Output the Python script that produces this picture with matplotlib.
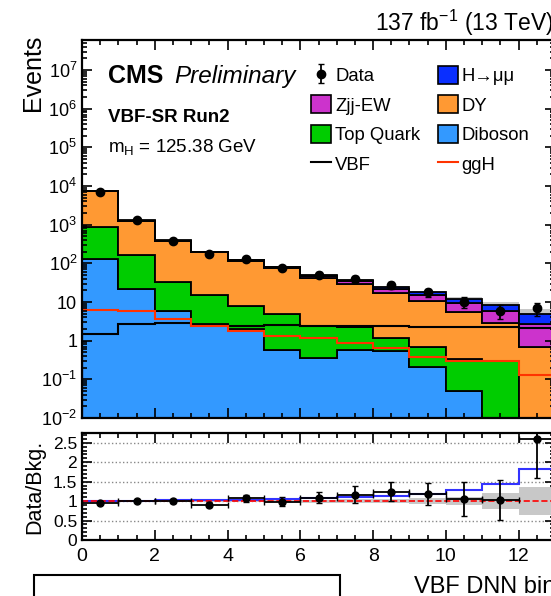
import numpy as np
import matplotlib.pyplot as plt
from matplotlib.patches import Patch, Rectangle
from matplotlib.lines import Line2D
from matplotlib.ticker import MultipleLocator, FixedLocator, LogLocator, NullFormatter, FuncFormatter

plt.rcParams['font.family'] = ['Liberation Sans', 'DejaVu Sans']
plt.rcParams['mathtext.fontset'] = 'custom'
plt.rcParams['mathtext.rm'] = 'Liberation Sans'
plt.rcParams['mathtext.it'] = 'Liberation Sans:italic'
plt.rcParams['mathtext.bf'] = 'Liberation Sans:bold'

# VBF DNN bins 0..13
bin_edges = np.arange(0, 14)

data = [7000, 1290, 390, 178, 128, 78, 51, 40, 27, 18, 10, 6, 7]
# error on data/bkg
ratio_err = [0.01, 0.03, 0.05, 0.07, 0.09, 0.11, 0.14, 0.22, 0.25, 0.28, 0.43, 0.52, 1.0]

# background stack (bottom to top)
diboson = [126, 21.7, 5.9, 2.7, 2.0, 0.59, 0.36, 0.59, 0.54, 0.21, 0.05, 0, 0]
top_quark = [764, 140, 28, 12.3, 6.0, 4.3, 2.0, 1.7, 0.66, 0.47, 0.28, 0.30, 0]
dy = [6350, 1107, 350, 177, 108, 71, 40.6, 26.7, 15.8, 10.1, 5.3, 2.6, 0.7]
zjj_ew = [60, 15, 6, 4, 4, 3, 4, 5.5, 4.7, 4.4, 3.9, 2.9, 2.0]

# signal
vbf = [1.46, 2.7, 2.8, 2.5, 2.4, 2.5, 2.4, 2.35, 2.4, 2.3, 2.3, 2.2, 2.1]
ggh = [6.3, 5.9, 3.6, 2.4, 1.8, 1.35, 1.2, 0.89, 0.66, 0.37, 0.30, 0.30, 0.13]

# relative bkg uncertainty (grey band)
bkg_unc = [0.01, 0.01, 0.02, 0.02, 0.03, 0.03, 0.04, 0.05, 0.05, 0.07, 0.1, 0.2, 0.35]

colors = {'Diboson': '#3399ff', 'Top Quark': '#00cc00', 'DY': '#ff9933',
          'Zjj-EW': '#cc33cc', 'H→μμ': '#0a2fff'}

data = np.array(data, dtype=float)
centers = 0.5 * (bin_edges[1:] + bin_edges[:-1])
layers = [('Diboson', diboson), ('Top Quark', top_quark), ('DY', dy), ('Zjj-EW', zjj_ew)]
bkg = np.sum([np.array(v) for _, v in layers], axis=0)
signal = np.array(vbf) + np.array(ggh)
total = bkg + signal
unc = np.array(bkg_unc)

W, H = 551, 596
fig = plt.figure(figsize=(W / 100, H / 100), dpi=100)
ax = fig.add_axes([82 / W, 1 - 418 / H, 473 / W, 378 / H])
ax2 = fig.add_axes([82 / W, 1 - 540 / H, 473 / W, 107 / H])

floor = 1e-4
# uncertainty band first so the stack covers its lower half
ax.stairs(total * (1 + unc), bin_edges, baseline=total * (1 - unc), fill=True, color='#c8c8c8', lw=0)

base = np.full(len(data), floor)
cum = np.zeros(len(data))
for name, vals in layers + [('H→μμ', signal)]:
    cum = cum + np.array(vals)
    top = np.maximum(cum, floor)
    ax.stairs(top, bin_edges, baseline=base, fill=True, facecolor=colors[name], edgecolor='k', lw=1.3)
    base = top

ax.stairs(vbf, bin_edges, color='k', lw=1.5)
ax.stairs(ggh, bin_edges, color='#ff3300', lw=1.5)
data_eb = ax.errorbar(centers, data, yerr=np.sqrt(data), fmt='o', color='k', ms=6, lw=1.3, capsize=2)

ax.set_yscale('log')
ax.set_xlim(0, 13)
ax.set_ylim(1e-2, 6e7)
ax.yaxis.set_major_locator(FixedLocator([10.0 ** k for k in range(-2, 8)]))
ax.set_yticklabels([r'$10^{-2}$', r'$10^{-1}$', '1', '10', r'$10^{2}$', r'$10^{3}$',
                    r'$10^{4}$', r'$10^{5}$', r'$10^{6}$', r'$10^{7}$'])
ax.yaxis.set_minor_locator(LogLocator(base=10, subs=np.arange(2, 10), numticks=20))
ax.yaxis.set_minor_formatter(NullFormatter())
ax.set_ylabel('Events', fontsize=18, loc='top')
ax.yaxis.set_label_coords(-0.078, 1.015)

for a in (ax, ax2):
    a.xaxis.set_major_locator(MultipleLocator(2))
    a.xaxis.set_minor_locator(MultipleLocator(0.5))
    a.tick_params(which='both', direction='in', top=True, right=True, width=1.2)
    a.tick_params(which='major', length=7, labelsize=13)
    a.tick_params(which='minor', length=3.5)
    for s in a.spines.values():
        s.set_linewidth(1.6)
ax.tick_params(labelbottom=False)

# ratio panel
ax2.stairs(1 + unc, bin_edges, baseline=1 - unc, fill=True, color='#c8c8c8', lw=0)
ax2.stairs(total / bkg, bin_edges, color='#3333ff', lw=1.5)
ax2.axhline(1, color='red', ls='--', lw=1.2)
ax2.errorbar(centers, data / bkg, xerr=0.5, yerr=ratio_err, fmt='o', color='k', ms=5, lw=1.3, capsize=2)
ax2.set_xlim(0, 13)
ax2.set_ylim(0, 2.75)
ax2.yaxis.set_major_locator(MultipleLocator(0.5))
ax2.yaxis.set_minor_locator(MultipleLocator(0.1))
ax2.yaxis.set_major_formatter(FuncFormatter(lambda v, p: '%g' % v))
ax2.yaxis.grid(True, ls=':', color='#888888', lw=1)
ax2.set_axisbelow(True)
ax2.tick_params(axis='y', labelsize=12.5)
ax2.tick_params(axis='x', labelsize=14, pad=6)
ax2.set_ylabel('Data/Bkg.', fontsize=15.5)
ax2.yaxis.set_label_coords(-0.078, 0.5)
ax2.set_xlabel('VBF DNN bin', fontsize=17, loc='right')
ax2.xaxis.set_label_coords(1.0, -0.34)

# labels
fig.text(554 / W, 1 - 23 / H, r'137 fb$^{-1}$ (13 TeV)', ha='right', va='center', fontsize=16.5)
fig.text(108 / W, 1 - 76 / H, 'CMS', ha='left', va='center', fontsize=18, fontweight='bold')
fig.text(174 / W, 1 - 76 / H, 'Preliminary', ha='left', va='center', fontsize=17.5, style='italic')
fig.text(108 / W, 1 - 117 / H, 'VBF-SR Run2', ha='left', va='center', fontsize=13.5, fontweight='bold')
fig.text(108 / W, 1 - 147 / H, r'm$_{\mathregular{H}}$ = 125.38 GeV', ha='left', va='center', fontsize=13.5)

handles = [data_eb,
           Patch(facecolor=colors['Zjj-EW'], edgecolor='k', lw=1.2),
           Patch(facecolor=colors['Top Quark'], edgecolor='k', lw=1.2),
           Line2D([], [], color='k', lw=1.5),
           Patch(facecolor=colors['H→μμ'], edgecolor='k', lw=1.2),
           Patch(facecolor=colors['DY'], edgecolor='k', lw=1.2),
           Patch(facecolor=colors['Diboson'], edgecolor='k', lw=1.2),
           Line2D([], [], color='#ff3300', lw=1.5)]
labels = ['Data', 'Zjj-EW', 'Top Quark', 'VBF', 'H→μμ', 'DY', 'Diboson', 'ggH']
ax.legend(handles, labels, ncol=2, loc='upper left', bbox_to_anchor=(311 / W, 1 - 66 / H),
          bbox_transform=fig.transFigure, frameon=False, fontsize=13.3, handlelength=1.1,
          handleheight=1.1, labelspacing=0.56, handletextpad=0.2, columnspacing=0.95,
          borderpad=0, borderaxespad=0)

# box at the bottom, cut by the picture edge
fig.add_artist(Rectangle((34 / W, -0.1), (340 - 34) / W, 1 - 575 / H + 0.1,
                         transform=fig.transFigure, fill=False, ec='k', lw=1.5))

plt.savefig('out.png', dpi=100)
